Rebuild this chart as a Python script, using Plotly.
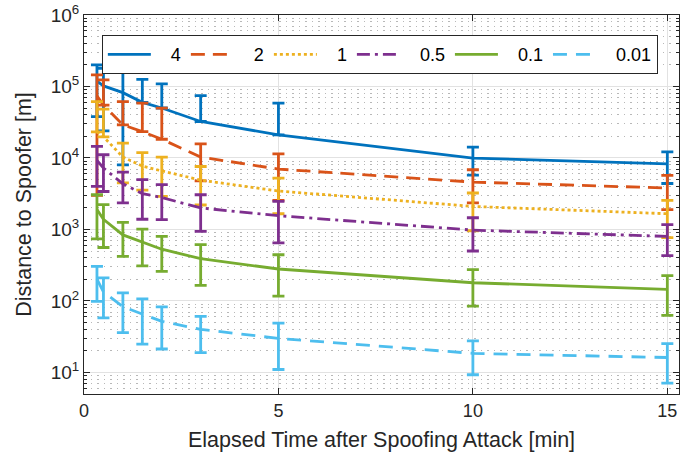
import numpy as np
import plotly.graph_objects as go

# ---- data ----
x_min = [1/3, 0.5, 1, 1.5, 2, 3, 5, 10, 15]
series_names = ["4", "2", "1", "0.5", "0.1", "0.01"]

mean_4 = [119000, 102000, 82000, 60000, 50000, 32400, 21100, 9960, 8300]
std_4 = [81000, 78000, 74000, 66000, 59000, 42000, 37400, 4200, 3900]

mean_2 = [74000, 55000, 29100, 23400, 18300, 10300, 7000, 4600, 3800]
std_2 = [71000, 69000, 32400, 35000, 31500, 5500, 4450, 2250, 1900]

mean_1 = [23200, 19800, 10300, 7700, 6600, 4900, 3450, 2100, 1660]
std_1 = [38300, 28400, 5800, 4150, 3700, 2700, 1790, 1140, 890]

mean_05 = [9250, 7250, 4350, 3180, 2800, 2000, 1560, 980, 800]
std_05 = [5250, 3850, 2000, 1790, 1430, 1060, 910, 480, 370]

mean_01 = [1900, 1390, 840, 660, 530, 390, 280, 180, 145]
std_01 = [1160, 830, 420, 350, 270, 225, 163, 95, 82]

mean_001 = [202, 134, 83, 66, 52, 40, 30, 18.5, 16.2]
std_001 = [103, 76, 47, 41, 30.7, 21, 19, 9.2, 9.1]

y_tick_vals = [10, 100, 1000, 10000, 100000, 1000000]
y_tick_text = ["10<sup>1</sup>", "10<sup>2</sup>", "10<sup>3</sup>",
               "10<sup>4</sup>", "10<sup>5</sup>", "10<sup>6</sup>"]
x_tick_vals = [0, 5, 10, 15]

means = [mean_4, mean_2, mean_1, mean_05, mean_01, mean_001]
stds = [std_4, std_2, std_1, std_05, std_01, std_001]

# ---- style ----
colors = ["#0072BD", "#D95319", "#EDB120", "#7E2F8E", "#77AC30", "#4DBEEE"]
dashes = ["solid", "14px,8px", "3px,3px", "13px,5px,3px,5px", "solid", "14px,9px"]
FONT = "Liberation Sans, Arial, Helvetica, sans-serif"
AX = "#262626"
LEGEND_PAD = "\u00a0\u00a0\u00a0"   # longer gap between legend line sample and its label

fig = go.Figure()
for name, m, s, c, d in zip(series_names, means, stds, colors, dashes):
    m = np.asarray(m, float)
    s = np.asarray(s, float)
    # as in MATLAB on a log axis: lower half is not drawn when it would go below zero
    minus = np.where(m - s > 0, s, 0.0)
    fig.add_trace(go.Scatter(
        x=x_min, y=m, mode="lines", name=LEGEND_PAD + name,
        line=dict(color=c, width=2.8, dash=d),
        error_y=dict(type="data", symmetric=False, array=s, arrayminus=minus,
                     color=c, thickness=2.8, width=6),
    ))

minor_vals = [k * 10.0 ** e for e in range(0, 6) for k in range(2, 10)
              if 5 <= k * 10.0 ** e <= 1e6]

fig.update_layout(
    width=694, height=455,
    margin=dict(l=84, r=15, t=15, b=61),
    paper_bgcolor="white", plot_bgcolor="white",
    font=dict(family=FONT, color=AX, size=18),
    showlegend=True,
    legend=dict(orientation="h", x=0.030, y=0.947, xanchor="left", yanchor="top",
                bordercolor=AX, borderwidth=1, bgcolor="white",
                itemwidth=43,
                font=dict(size=18, color="black")),
)
fig.update_xaxes(
    range=[0, 15.3], tickvals=x_tick_vals, ticks="inside", ticklen=6,
    tickcolor=AX, mirror="allticks", showline=True, linecolor=AX, linewidth=1,
    showgrid=True, gridcolor="#e2e2e2", gridwidth=1, zeroline=False,
    tickfont=dict(size=18), automargin=False,
    title=dict(text="Elapsed Time after Spoofing Attack [min]", font=dict(size=21.5),
               standoff=12),
)
fig.update_yaxes(
    type="log", range=[np.log10(5), 6], tickvals=y_tick_vals, ticktext=y_tick_text,
    ticks="inside", ticklen=6, tickcolor=AX, mirror="allticks", showline=True,
    linecolor=AX, linewidth=1, showgrid=True, gridcolor="#e2e2e2", gridwidth=1,
    zeroline=False, tickfont=dict(size=19), automargin=False,
    ticklabeloverflow="allow",
    title=dict(text="Distance to Spoofer [m]", font=dict(size=21.5), standoff=13),
    minor=dict(tickvals=minor_vals, ticks="inside", ticklen=3, tickcolor=AX,
               showgrid=True, griddash="1.5px,5px", gridcolor="#b8b8b8", gridwidth=1),
)

# remove the browser's default 8px page margin so the figure fills the window
fig.write_html("out.html", config={"displayModeBar": False},
               post_script="document.body.style.margin='0px';")
